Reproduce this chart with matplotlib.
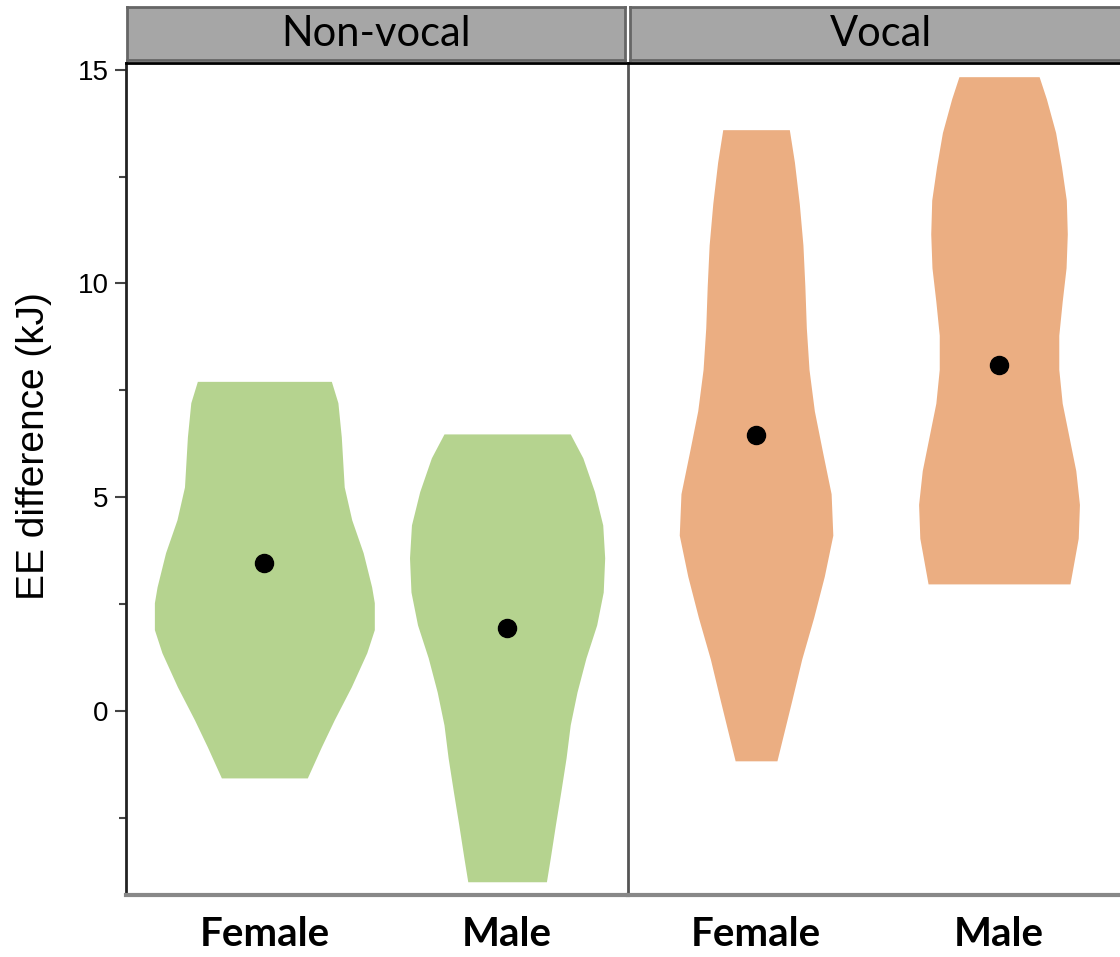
import matplotlib
matplotlib.use('Agg')
import matplotlib.pyplot as plt

# Facets and categories
groups = ['Non-vocal', 'Vocal']
sexes = ['Female', 'Male']

# Violin outlines: EE difference levels (kJ) and half-widths (category units)
nv_female_y = [7.71, 7.21, 6.41, 5.24, 4.47, 3.70, 2.90, 2.53, 1.90, 1.36, 0.56, -0.21, -0.84, -1.57]
nv_female_w = [0.276, 0.303, 0.317, 0.329, 0.360, 0.407, 0.442, 0.453, 0.453, 0.422, 0.358, 0.288, 0.235, 0.177]

nv_male_y = [6.48, 5.92, 5.13, 4.35, 3.58, 2.78, 2.01, 1.24, 0.44, -0.33, -1.10, -1.90, -2.67, -3.44, -4.00]
nv_male_w = [0.260, 0.312, 0.360, 0.394, 0.402, 0.396, 0.369, 0.325, 0.288, 0.260, 0.243, 0.221, 0.199, 0.178, 0.162]

v_female_y = [13.60, 12.84, 11.87, 10.90, 9.93, 8.96, 7.99, 7.02, 6.05, 5.08, 4.11, 3.15, 2.18, 1.21, 0.24, -1.17]
v_female_w = [0.137, 0.158, 0.178, 0.193, 0.201, 0.207, 0.218, 0.240, 0.274, 0.309, 0.316, 0.281, 0.237, 0.188, 0.147, 0.086]

v_male_y = [14.84, 14.32, 13.53, 12.74, 11.95, 11.16, 10.37, 9.58, 8.79, 7.99, 7.20, 6.41, 5.62, 4.83, 4.04, 2.97]
v_male_w = [0.165, 0.195, 0.233, 0.257, 0.277, 0.281, 0.276, 0.260, 0.246, 0.246, 0.260, 0.288, 0.316, 0.331, 0.326, 0.292]

# Group means (kJ)
nv_means = [3.46, 1.94]
v_means = [6.46, 8.10]

green = '#B5D38F'
orange = '#EBAE82'

W, H = 1120, 957
fig = plt.figure(figsize=(W / 100, H / 100), dpi=100)


def box(x0, y0, x1, y1):
    return [x0 / W, 1 - y1 / H, (x1 - x0) / W, (y1 - y0) / H]


ax_nv = fig.add_axes(box(125.5, 63, 627.5, 895))
ax_v = fig.add_axes(box(627.5, 63, 1129.5, 895))

panels = [
    (ax_nv, [(nv_female_y, nv_female_w), (nv_male_y, nv_male_w)], nv_means, green, (0.428, 2.496)),
    (ax_v, [(v_female_y, v_female_w), (v_male_y, v_male_w)], v_means, orange, (0.471, 2.537)),
]

for ax, shapes, means, color, xlim in panels:
    for i, (ys, ws) in enumerate(shapes):
        pos = i + 1
        ax.fill_betweenx(ys, [pos - w for w in ws], [pos + w for w in ws],
                         color=color, linewidth=0)
        ax.plot(pos, means[i], 'o', color='black', markersize=13)
    ax.set_xlim(*xlim)
    ax.set_ylim(-4.31, 15.16)
    ax.set_xticks([1, 2])
    ax.set_xticklabels(sexes, family='Lato', fontweight='bold', fontsize=29)
    ax.tick_params(axis='x', length=0, pad=15)
    ax.spines['right'].set_visible(False)
    ax.spines['top'].set_color('black')
    ax.spines['top'].set_linewidth(2)
    ax.spines['bottom'].set_color('#888888')
    ax.spines['bottom'].set_linewidth(3)

# y axis on the left panel only
ax_nv.set_yticks([0, 5, 10, 15])
ax_nv.set_yticks([-2.5, 2.5, 7.5, 12.5], minor=True)
ax_nv.tick_params(axis='y', which='major', length=8, width=1.5, color='#444444',
                  labelsize=20, pad=4)
ax_nv.tick_params(axis='y', which='minor', length=5, width=1.5, color='#444444')
for lab in ax_nv.get_yticklabels():
    lab.set_family('Liberation Sans')
ax_nv.spines['left'].set_color('#222222')
ax_nv.spines['left'].set_linewidth(2)
ax_nv.set_ylabel('EE difference (kJ)', family='Liberation Sans', fontsize=28)
ax_nv.yaxis.set_label_coords(-0.146, 0.539)

ax_v.tick_params(axis='y', which='both', left=False, labelleft=False)
ax_v.spines['left'].set_color('#555555')
ax_v.spines['left'].set_linewidth(2)

# facet strips
for (x0, x1), name in zip([(127, 625), (630, 1132)], groups):
    sx = fig.add_axes(box(x0, 7, x1, 60))
    sx.set_facecolor('#A6A6A6')
    sx.set_xticks([])
    sx.set_yticks([])
    for sp in sx.spines.values():
        sp.set_color('#666666')
        sp.set_linewidth(2)
    sx.text(0.5, 0.5, name, transform=sx.transAxes, ha='center', va='center',
            family='Lato', fontsize=30)

fig.savefig('out.png', dpi=100)
